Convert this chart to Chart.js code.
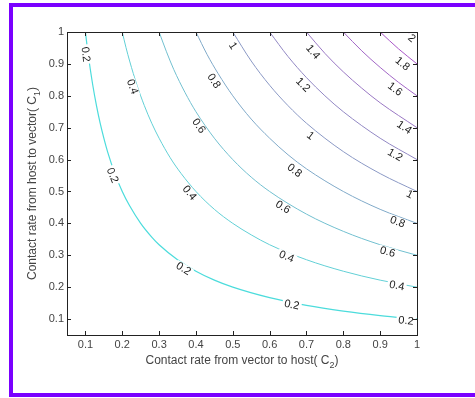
<!DOCTYPE html>
<html>
<head>
<meta charset="utf-8">
<script src="https://cdn.jsdelivr.net/npm/chart.js@4"></script>
<style>
  body { margin: 0; background: #fff; }
  #frame {
    position: absolute; left: 9px; top: 3px; width: 480px; height: 394px;
    box-sizing: border-box; border: 4px solid #7a00ff;
  }
  #wrap { position: absolute; left: 0; top: 0; width: 475px; height: 398px; }
</style>
</head>
<body>
<div id="frame"></div>
<div id="wrap"><canvas id="canvas1"></canvas></div>
<script>
// contour levels and their colours
const levels = [0.2, 0.4, 0.6, 0.8, 1, 1.2, 1.4, 1.6, 1.8, 2]
const levelColors = ["#4cdcdc", "#62d0d6", "#72c0d0", "#80aac9", "#8b99c5", "#9288c4", "#9a78c4", "#a267c6", "#aa57c9", "#b447cc"]

// points: [C2, C1]
const level02 = [[0.1,1.0],[0.105,0.952],[0.11,0.909],[0.12,0.833],[0.13,0.769],[0.14,0.714],[0.15,0.667],[0.16,0.625],[0.18,0.556],[0.2,0.5],[0.22,0.455],[0.25,0.4],[0.28,0.357],[0.3,0.333],[0.35,0.286],[0.4,0.25],[0.45,0.222],[0.5,0.2],[0.6,0.167],[0.7,0.143],[0.8,0.125],[0.9,0.111],[1.0,0.1]]
const level04 = [[0.2,1.0],[0.21,0.952],[0.22,0.909],[0.24,0.833],[0.26,0.769],[0.28,0.714],[0.3,0.667],[0.33,0.606],[0.36,0.556],[0.4,0.5],[0.45,0.444],[0.5,0.4],[0.55,0.364],[0.6,0.333],[0.7,0.286],[0.8,0.25],[0.9,0.222],[1.0,0.2]]
const level06 = [[0.3,1.0],[0.32,0.938],[0.34,0.882],[0.37,0.811],[0.4,0.75],[0.45,0.667],[0.5,0.6],[0.55,0.545],[0.6,0.5],[0.7,0.429],[0.8,0.375],[0.9,0.333],[1.0,0.3]]
const level08 = [[0.4,1.0],[0.43,0.93],[0.46,0.87],[0.5,0.8],[0.55,0.727],[0.6,0.667],[0.65,0.615],[0.7,0.571],[0.8,0.5],[0.9,0.444],[1.0,0.4]]
const level10 = [[0.5,1.0],[0.55,0.909],[0.6,0.833],[0.65,0.769],[0.7,0.714],[0.8,0.625],[0.9,0.556],[1.0,0.5]]
const level12 = [[0.6,1.0],[0.65,0.923],[0.7,0.857],[0.75,0.8],[0.8,0.75],[0.9,0.667],[1.0,0.6]]
const level14 = [[0.7,1.0],[0.75,0.933],[0.8,0.875],[0.85,0.824],[0.9,0.778],[1.0,0.7]]
const level16 = [[0.8,1.0],[0.85,0.941],[0.9,0.889],[0.95,0.842],[1.0,0.8]]
const level18 = [[0.9,1.0],[0.95,0.947],[1.0,0.9]]
const level20 = [[0.975,1.0],[1.0,0.975]]
const contourLines = [level02, level04, level06, level08, level10, level12, level14, level16, level18, level20]

// inline contour labels: level, C2, C1
const labelLevels = [0.2, 0.2, 0.2, 0.2, 0.2, 0.4, 0.4, 0.4, 0.4, 0.6, 0.6, 0.6, 0.8, 0.8, 0.8, 1, 1, 1, 1.2, 1.2, 1.4, 1.4, 1.6, 1.8, 2]
const labelC2 = [0.1, 0.173, 0.366, 0.66, 0.97, 0.227, 0.382, 0.646, 0.945, 0.407, 0.636, 0.92, 0.448, 0.667, 0.947, 0.5, 0.71, 0.98, 0.69, 0.94, 0.717, 0.965, 0.94, 0.96, 0.985]
const labelC1 = [0.93, 0.55, 0.257, 0.144, 0.094, 0.828, 0.495, 0.295, 0.204, 0.705, 0.45, 0.31, 0.846, 0.565, 0.404, 0.956, 0.674, 0.49, 0.834, 0.614, 0.937, 0.7, 0.82, 0.9, 0.98]

// axis ticks
const tickValues = [0.1, 0.2, 0.3, 0.4, 0.5, 0.6, 0.7, 0.8, 0.9, 1]
const tickLabels = ["0.1", "0.2", "0.3", "0.4", "0.5", "0.6", "0.7", "0.8", "0.9", "1"]

const textColor = "#444"
const fontFamily = "'Liberation Sans', Arial, sans-serif"

// draws labels, box, inward ticks and axis titles the MATLAB way
const contourDecor = {
    id: "contourDecor",
    afterDraw(chart) {
        const ctx = chart.ctx
        const xs = chart.scales.x
        const ys = chart.scales.y
        const area = chart.chartArea

        // contour labels
        ctx.save()
        ctx.font = "11px " + fontFamily
        ctx.textAlign = "center"
        ctx.textBaseline = "middle"
        labelLevels.forEach((lvl, i) => {
            const px = xs.getPixelForValue(labelC2[i])
            const py = ys.getPixelForValue(labelC1[i])
            const pts = contourLines[levels.indexOf(lvl)].map(p => [xs.getPixelForValue(p[0]), ys.getPixelForValue(p[1])])
            // nearest segment gives the line direction
            let best = Infinity, ang = 0
            for (let k = 0; k < pts.length - 1; k++) {
                const mx = (pts[k][0] + pts[k + 1][0]) / 2
                const my = (pts[k][1] + pts[k + 1][1]) / 2
                const d = (mx - px) ** 2 + (my - py) ** 2
                if (d < best) {
                    best = d
                    ang = Math.atan2(pts[k + 1][1] - pts[k][1], pts[k + 1][0] - pts[k][0])
                }
            }
            const txt = String(lvl)
            const w = ctx.measureText(txt).width
            ctx.save()
            ctx.translate(px, py)
            ctx.rotate(ang)
            ctx.fillStyle = "#fff"
            ctx.fillRect(-w / 2 - 2, -5, w + 4, 10)
            ctx.fillStyle = "#1a1a1a"
            ctx.fillText(txt, 0, 0)
            ctx.restore()
        })
        ctx.restore()

        // axes box
        ctx.save()
        ctx.strokeStyle = "#222"
        ctx.lineWidth = 1
        ctx.strokeRect(area.left + 0.5, area.top + 0.5, area.right - area.left, area.bottom - area.top)
        // inward ticks on all four sides
        ctx.beginPath()
        tickValues.forEach(v => {
            const x = Math.round(xs.getPixelForValue(v)) + 0.5
            ctx.moveTo(x, area.bottom); ctx.lineTo(x, area.bottom - 4)
            ctx.moveTo(x, area.top); ctx.lineTo(x, area.top + 4)
            const y = Math.round(ys.getPixelForValue(v)) + 0.5
            ctx.moveTo(area.left, y); ctx.lineTo(area.left + 4, y)
            ctx.moveTo(area.right, y); ctx.lineTo(area.right - 4, y)
        })
        ctx.stroke()
        ctx.restore()

        // axis titles with subscripts
        const drawTitle = (main, sub, cx, cy, rot) => {
            ctx.save()
            ctx.fillStyle = textColor
            ctx.translate(cx, cy)
            ctx.rotate(rot)
            ctx.font = "12px " + fontFamily
            const w1 = ctx.measureText(main).width
            const w3 = ctx.measureText(")").width
            ctx.font = "9px " + fontFamily
            const w2 = ctx.measureText(sub).width
            const x0 = -(w1 + w2 + w3) / 2
            ctx.textBaseline = "alphabetic"
            ctx.textAlign = "left"
            ctx.font = "12px " + fontFamily
            ctx.fillText(main, x0, 4)
            ctx.fillText(")", x0 + w1 + w2, 4)
            ctx.font = "9px " + fontFamily
            ctx.fillText(sub, x0 + w1, 8)
            ctx.restore()
        }
        drawTitle("Contact rate from vector to host( C", "2", (area.left + area.right) / 2, 360, 0)
        drawTitle("Contact rate from host to vector( C", "1", 32, (area.top + area.bottom) / 2, -Math.PI / 2)
    }
}

const datasets = contourLines.map((line, i) => ({
    label: String(levels[i]),
    data: line.map(p => ({ x: p[0], y: p[1] })),
    borderColor: levelColors[i],
    borderWidth: i === 0 ? 1.2 : 1,
    showLine: true,
    pointRadius: 0,
    cubicInterpolationMode: "monotone",
    fill: false
}))

const setTicks = scale => { scale.ticks = tickValues.map(v => ({ value: v })) }
const tickText = value => {
    const idx = tickValues.findIndex(v => Math.abs(v - value) < 1e-9)
    return idx >= 0 ? tickLabels[idx] : ""
}

const ctx = document.querySelector("#canvas1")
const contourChart = new Chart(ctx, {
    type: "scatter",
    data: { datasets: datasets },
    options: {
        responsive: true,
        maintainAspectRatio: false,
        animation: false,
        layout: { padding: { left: 0, top: 32, right: 58, bottom: 0 } },
        plugins: {
            legend: { display: false },
            tooltip: { enabled: false }
        },
        scales: {
            x: {
                type: "linear",
                min: 0.05,
                max: 1,
                afterBuildTicks: setTicks,
                afterFit: scale => { scale.height = 63 },
                grid: { display: false, drawTicks: false },
                border: { display: false },
                ticks: {
                    padding: 3,
                    color: textColor,
                    maxRotation: 0,
                    autoSkip: false,
                    font: { family: fontFamily, size: 11 },
                    callback: tickText
                }
            },
            y: {
                type: "linear",
                min: 0.05,
                max: 1,
                afterBuildTicks: setTicks,
                afterFit: scale => { scale.width = 67 },
                grid: { display: false, drawTicks: false },
                border: { display: false },
                ticks: {
                    padding: 3,
                    color: textColor,
                    autoSkip: false,
                    font: { family: fontFamily, size: 11 },
                    callback: tickText
                }
            }
        }
    },
    plugins: [contourDecor]
})
</script>
</body>
</html>
